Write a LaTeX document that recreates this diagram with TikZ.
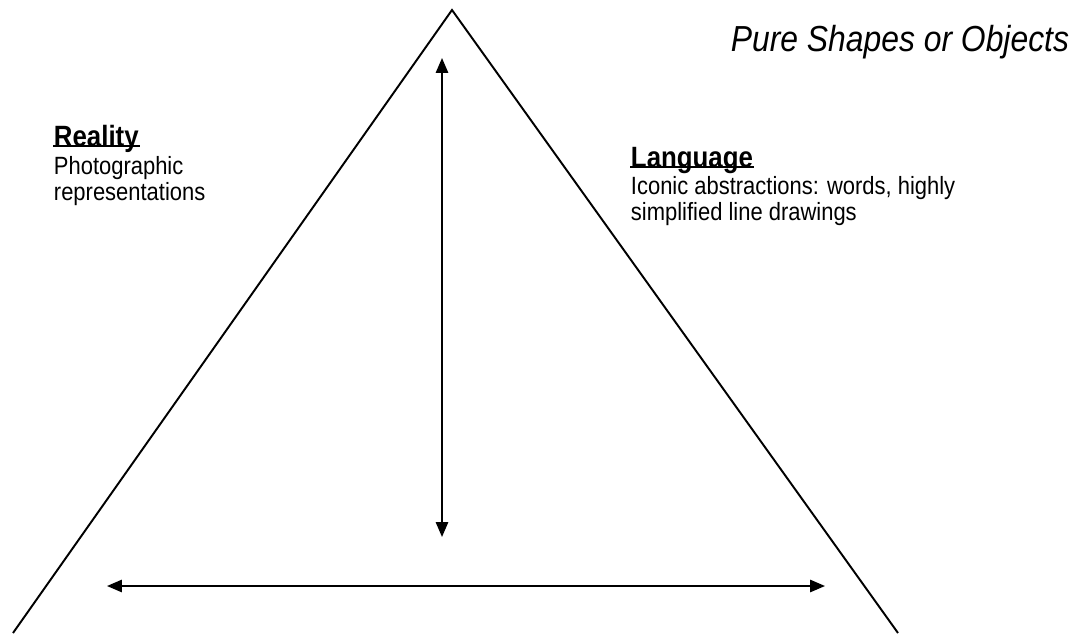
\documentclass[tikz,border=0pt]{standalone}
\usepackage{fontspec}
\setmainfont{Liberation Sans}
\newfontfamily\narrowfont[FakeStretch=0.88]{Liberation Sans}
\usetikzlibrary{arrows.meta}

\tikzset{
    heading/.style={anchor=base west, inner sep=0pt, font=\narrowfont\bfseries\fontsize{16.7}{18}\selectfont},
    bodytext/.style={anchor=base west, inner sep=0pt, align=left, font=\narrowfont\fontsize{14.2}{13}\selectfont},
    underbar/.style={line width=1.6pt, yshift=-2.9pt},
}

\begin{document}
\begin{tikzpicture}[>={Triangle[length=8.5pt, width=7pt]}, line width=1.1pt]

    \useasboundingbox (0,0) rectangle (21.56,12.66);

    % --- Coordinates ---
    \coordinate (top) at (9.04,12.46);
    \coordinate (left) at (0.26,0);
    \coordinate (right) at (17.96,0);
    \coordinate (up) at (8.84,11.5);
    \coordinate (down) at (8.84,1.92);
    \coordinate (west) at (2.14,0.94);
    \coordinate (east) at (16.5,0.94);

    % --- Triangle ---
    \draw (left) -- (top) -- (right);

    % --- Arrows ---
    \draw[<->] (up) -- (down);
    \draw[<->] (west) -- (east);

    % --- Labels ---
    \node[anchor=base east, inner sep=0pt, font=\narrowfont\itshape\fontsize{20.6}{22}\selectfont] (pure) at (21.4,11.62) {Pure Shapes or Objects};

    \node[heading] (reality) at (1.06,9.74) {Reality};
    \draw[underbar] (reality.base west) -- (reality.base east);
    \node[bodytext] (photo) at (1.06,8.66) {Photographic\\representations};

    \node[heading] (language) at (12.6,9.32) {Language};
    \draw[underbar] (language.base west) -- (language.base east);
    \node[bodytext] (iconic) at (12.6,8.26) {Iconic abstractions: words, highly\\simplified line drawings};

\end{tikzpicture}
\end{document}
